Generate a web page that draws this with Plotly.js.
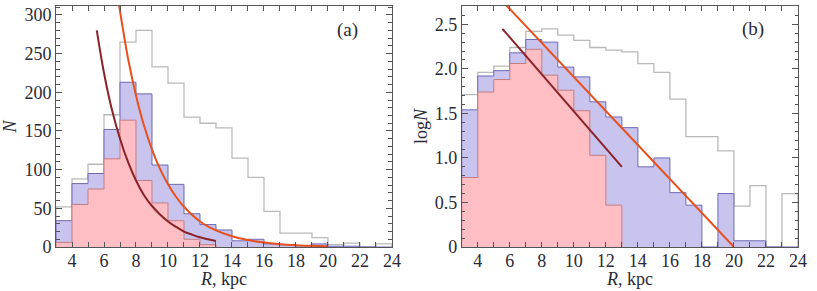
<!DOCTYPE html>
<html>
<head>
<meta charset="utf-8">
<script src="https://cdn.plot.ly/plotly-3.0.1.min.js"></script>
<style>html,body{margin:0;padding:0;background:#fff;}#chart{width:817px;height:291px;}</style>
</head>
<body>
<div id="chart"></div>
<script>
// Bin left edges (kpc), bins of width 1
const binEdges = [3,4,5,6,7,8,9,10,11,12,13,14,15,16,17,18,19,20,21,22,23,24];

// Panel (a): counts N
const grayN  = [52, 88, 107, 171, 265, 280, 233, 212, 168, 160, 154, 115, 90, 46, 18, 18, 12, 3, 5, 0, 4];
const blueN  = [34, 82, 95, 152, 213, 198, 106, 81, 43, 29, 22, 8, 10, 4, 3, 0, 4, 1, 1, 0, 0];
const pinkN  = [6, 55, 75, 114, 164, 86, 57, 34, 10, 3];

// Panel (b): log N
const grayLog = [1.71, 1.96, 2.03, 2.24, 2.42, 2.45, 2.38, 2.32, 2.24, 2.21, 2.19, 2.06, 1.96, 1.66, 1.24, 1.24, 1.08, 0.46, 0.69, 0, 0.60];
const blueLog = [1.54, 1.92, 1.98, 2.18, 2.33, 2.30, 2.02, 1.91, 1.63, 1.46, 1.34, 0.90, 1.00, 0.61, 0.47, 0, 0.60, 0.07, 0.07, 0, 0];
const pinkLog = [0.78, 1.74, 1.88, 2.06, 2.22, 1.93, 1.76, 1.53, 1.03, 0.47];

// Fitted curves
const darkR = [5.55, 6.0, 6.5, 7.0, 7.5, 8.0, 8.5, 9.0, 9.5, 10.0, 10.5, 11.0, 11.5, 12.0, 12.5, 13.0];
const darkN = [280, 225, 177, 140, 110, 86, 67, 53, 42, 33, 26, 20, 16, 12.5, 10, 7.8];
const oranR = [6.9, 7.0, 7.5, 8.0, 8.5, 9.0, 9.5, 10.0, 10.5, 11.0, 12.0, 13.0, 14.0, 15.0, 16.0, 17.0, 18.0, 19.0, 20.0];
const oranN = [318, 305, 244, 196, 157, 126, 101, 81, 65, 52, 33, 21.5, 14, 9, 5.7, 3.7, 2.4, 1.5, 1];

// Fitted lines
const darkLineR = [5.54, 13.0];
const darkLineLog = [2.45, 0.90];
const oranLineR = [5.7, 20.0];
const oranLineLog = [2.73, 0.0];

// Tick labels
const xTickVals = [4, 6, 8, 10, 12, 14, 16, 18, 20, 22, 24];
const yTickValsA = [0, 50, 100, 150, 200, 250, 300];
const yTickValsB = [0, 0.5, 1.0, 1.5, 2.0, 2.5];
const yTickTextB = ['0', '0.5', '1.0', '1.5', '2.0', '2.5'];

function steps(vals) {
  const x = [binEdges[0]], y = [0];
  for (let i = 0; i < vals.length; i++) { x.push(binEdges[i]); y.push(vals[i]); }
  x.push(binEdges[vals.length]); y.push(vals[vals.length - 1]);
  x.push(binEdges[vals.length]); y.push(0);
  return {x, y};
}

const C = {
  grayLine: '#b9b9b9',
  blueFill: 'rgba(200,196,238,1)', blueLine: '#6e68b6',
  pinkFill: 'rgba(255,190,196,1)', pinkLine: '#c57c82',
  dark: '#8b2228', orange: '#e8501e'
};

function histTraces(g, b, p, xa, ya) {
  const gs = steps(g), bs = steps(b), ps = steps(p);
  return [
    {x: gs.x, y: gs.y, type: 'scatter', mode: 'lines', line: {shape: 'hv', color: C.grayLine, width: 1.3}, xaxis: xa, yaxis: ya, hoverinfo: 'skip'},
    {x: bs.x, y: bs.y, type: 'scatter', mode: 'lines', fill: 'tozeroy', fillcolor: C.blueFill, line: {shape: 'hv', color: C.blueLine, width: 1}, xaxis: xa, yaxis: ya, hoverinfo: 'skip'},
    {x: ps.x, y: ps.y, type: 'scatter', mode: 'lines', fill: 'tozeroy', fillcolor: C.pinkFill, line: {shape: 'hv', color: C.pinkLine, width: 1}, xaxis: xa, yaxis: ya, hoverinfo: 'skip'}
  ];
}

const data = [
  ...histTraces(grayN, blueN, pinkN, 'x', 'y'),
  {x: darkR, y: darkN, type: 'scatter', mode: 'lines', line: {color: C.dark, width: 2, shape: 'spline'}, xaxis: 'x', yaxis: 'y'},
  {x: oranR, y: oranN, type: 'scatter', mode: 'lines', line: {color: C.orange, width: 2, shape: 'spline'}, xaxis: 'x', yaxis: 'y'},
  ...histTraces(grayLog, blueLog, pinkLog, 'x2', 'y2'),
  {x: darkLineR, y: darkLineLog, type: 'scatter', mode: 'lines', line: {color: C.dark, width: 2}, xaxis: 'x2', yaxis: 'y2'},
  {x: oranLineR, y: oranLineLog, type: 'scatter', mode: 'lines', line: {color: C.orange, width: 2}, xaxis: 'x2', yaxis: 'y2'}
];

const fam = '"Liberation Serif", "Times New Roman", serif';
const font = {family: fam, size: 18, color: '#2a2a36'};
const titleFont = {family: fam, size: 18, color: '#2a2a36'};
const xCommon = {
  range: [3, 24], tickmode: 'array', tickvals: xTickVals, ticks: 'inside', ticklen: 5, tickcolor: '#555',
  showline: true, linecolor: '#555', linewidth: 1, mirror: 'ticks', showgrid: false, zeroline: false,
  minor: {dtick: 1, ticks: 'inside', ticklen: 5, tickcolor: '#555', showgrid: false},
  tickfont: font, fixedrange: true, ticklabelstandoff: -3
};

const layout = {
  width: 817, height: 291,
  margin: {l: 56, r: 19, t: 6, b: 44},
  paper_bgcolor: '#fff', plot_bgcolor: '#fff',
  showlegend: false, font: font,
  xaxis: Object.assign({}, xCommon, {domain: [0, 0.4528], anchor: 'y'}),
  xaxis2: Object.assign({}, xCommon, {domain: [0.5468, 1], anchor: 'y2'}),
  yaxis: {
    range: [0, 311.6], tickmode: 'array', tickvals: yTickValsA, ticks: 'inside', ticklen: 6, tickcolor: '#555',
    showline: true, linecolor: '#555', mirror: 'ticks', showgrid: false, zeroline: false,
    minor: {dtick: 10, ticks: 'inside', ticklen: 3.5, tickcolor: '#555', showgrid: false},
    tickfont: font, anchor: 'x', fixedrange: true,
    title: {text: '<i>N</i>', font: titleFont, standoff: 4}
  },
  yaxis2: {
    range: [0, 2.706], tickmode: 'array', tickvals: yTickValsB, ticktext: yTickTextB, ticks: 'inside', ticklen: 6, tickcolor: '#555',
    showline: true, linecolor: '#555', mirror: 'ticks', showgrid: false, zeroline: false,
    minor: {dtick: 0.1, ticks: 'inside', ticklen: 3.5, tickcolor: '#555', showgrid: false},
    tickfont: font, anchor: 'x2', fixedrange: true,
    title: {text: 'log<i>N</i>', font: titleFont, standoff: 2}
  },
  annotations: [
    {text: '(a)', xref: 'x', yref: 'y', x: 21.2, y: 281, showarrow: false, font: {family: fam, size: 19, color: '#2a2a36'}},
    {text: '(b)', xref: 'x2', yref: 'y2', x: 21.2, y: 2.45, showarrow: false, font: {family: fam, size: 19, color: '#2a2a36'}},
    {text: '<i>R</i>, kpc', xref: 'x domain', yref: 'paper', x: 0.5, y: 0, yshift: -44, yanchor: 'bottom', showarrow: false, font: titleFont},
    {text: '<i>R</i>, kpc', xref: 'x2 domain', yref: 'paper', x: 0.5, y: 0, yshift: -44, yanchor: 'bottom', showarrow: false, font: titleFont}
  ]
};

Plotly.newPlot('chart', data, layout, {staticPlot: true, displayModeBar: false});
</script>
</body>
</html>
